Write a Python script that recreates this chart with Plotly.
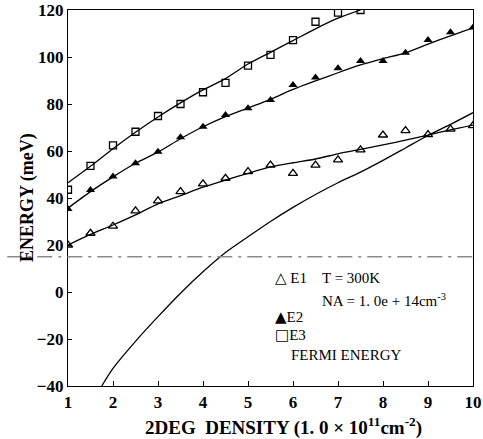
import plotly.graph_objects as go

# ---- data ----
x_pts = [1, 1.5, 2, 2.5, 3, 3.5, 4, 4.5, 5, 5.5, 6, 6.5, 7, 7.5, 8, 8.5, 9, 9.5, 10]
e1_pts = [20, 25, 28, 34.5, 38.8, 42.7, 46, 48.4, 51.2, 54, 50.5, 54, 56.2, 60.5, 66.8, 68.7, 67, 69.3, 70.8]
e2_pts = [35.3, 43.4, 49.1, 54.8, 59.7, 65.8, 70.3, 75.3, 78.2, 81.7, 88.1, 91.3, 95.2, 98.3, 98.3, 101.8, 107.2, 110.5, 112.6]
x_e3 = [1, 1.5, 2, 2.5, 3, 3.5, 4, 4.5, 5, 5.5, 6, 6.5, 7, 7.5]
e3_pts = [43.5, 53.7, 62.4, 68.2, 74.9, 80, 85, 89, 96.3, 100.9, 107.2, 115, 118.9, 120]

x_fit = [1, 1.5, 2, 2.5, 3, 3.5, 4, 4.5, 5, 5.5, 6, 6.5, 7, 7.5, 8, 8.5, 9, 9.5, 10]
e1_fit = [20, 24.5, 28.5, 32.8, 37.5, 41, 44.6, 47.6, 50.5, 53.2, 55, 56.6, 58.8, 60.7, 62.6, 64.6, 66.8, 69, 71]
e2_fit = [35.7, 42.7, 49, 54.8, 59.5, 65.2, 70.3, 74.6, 78.3, 82, 86.2, 89.8, 93.3, 96.6, 99.3, 101.8, 105.5, 109, 112.4]
x_e3_fit = [1, 1.5, 2, 2.5, 3, 3.5, 4, 4.5, 5, 5.5, 6, 6.5, 7, 7.5]
e3_fit = [46.5, 53.5, 61, 68, 74.5, 80.5, 86, 90.8, 97, 102, 107, 112, 116.5, 120]

x_fermi = [1.75, 2, 2.5, 3, 3.5, 4, 4.5, 5, 5.5, 6, 6.5, 7, 7.5, 8, 8.5, 9, 9.5, 10]
fermi = [-40, -32.5, -21, -10.5, -0.5, 8.6, 16.8, 23.5, 30, 36, 41.5, 46.5, 51, 56, 61.3, 66.6, 71.3, 76.3]

dash_level = 15

x_ticks = [1, 2, 3, 4, 5, 6, 7, 8, 9, 10]
y_ticks = [-40, -20, 0, 20, 40, 60, 80, 100, 120]

serif = "Liberation Serif, Times New Roman, serif"

fig = go.Figure()

for xs, ys in [(x_fit, e1_fit), (x_fit, e2_fit), (x_e3_fit, e3_fit), (x_fermi, fermi)]:
    fig.add_trace(go.Scatter(x=xs, y=ys, mode="lines",
                             line=dict(color="black", width=1.3, shape="spline", smoothing=0.7),
                             showlegend=False, hoverinfo="skip"))

fig.add_trace(go.Scatter(x=x_pts, y=e1_pts, mode="markers", showlegend=False,
                         marker=dict(symbol="triangle-up-open", size=8, color="black", line=dict(width=1.3))))
fig.add_trace(go.Scatter(x=x_pts, y=e2_pts, mode="markers", showlegend=False,
                         marker=dict(symbol="triangle-up", size=8, color="black")))
fig.add_trace(go.Scatter(x=x_e3, y=e3_pts, mode="markers", showlegend=False,
                         marker=dict(symbol="square-open", size=7, color="black", line=dict(width=1.3))))

# dash-dot horizontal line (extends into the left margin)
fig.add_shape(type="line", xref="paper", yref="y", x0=-0.15, x1=1.0, y0=dash_level, y1=dash_level,
              line=dict(color="#8a8a8a", width=1.5, dash="longdashdot"))

ann_font = dict(family=serif, size=15, color="black")
sym = '<span style="font-family:DejaVu Sans;font-size:15px">{}</span>'
legend_rows = [
    (0.505, 0.287, sym.format("△") + " E1"),
    (0.622, 0.287, "T = 300K"),
    (0.622, 0.229, "NA = 1. 0e + 14cm<sup>-3</sup>"),
    (0.505, 0.184, sym.format("▲") + "E2"),
    (0.505, 0.136, sym.format("□") + "E3"),
    (0.545, 0.082, "FERMI ENERGY"),
]
for ax, ay, txt in legend_rows:
    fig.add_annotation(x=ax, y=ay, xref="paper", yref="paper", text=txt, showarrow=False,
                       xanchor="left", yanchor="middle", font=ann_font)

title_font = dict(family=serif, size=19, weight="bold", color="black")
fig.add_annotation(x=0.533, y=-0.109, xref="paper", yref="paper", showarrow=False,
                   text="2DEG  DENSITY (1. 0 × 10<sup>11</sup>cm<sup>-2</sup>)",
                   xanchor="center", yanchor="middle", font=title_font)
fig.add_annotation(x=-0.101, y=0.5, xref="paper", yref="paper", showarrow=False, textangle=-90,
                   text="ENERGY (meV)", xanchor="center", yanchor="middle",
                   font=dict(family=serif, size=18, weight="bold", color="black"))

fig.update_layout(
    width=483, height=439,
    margin=dict(l=68, r=10, t=10, b=53),
    paper_bgcolor="white", plot_bgcolor="white",
    font=dict(family=serif, color="black"),
    xaxis=dict(range=[1, 10], tickvals=x_ticks, showgrid=False, zeroline=False, automargin=False,
               showline=True, linecolor="black", linewidth=1.3, mirror=True,
               ticks="inside", ticklen=5, tickcolor="black",
               tickfont=dict(family=serif, size=17, weight="bold")),
    yaxis=dict(range=[-40, 120], tickvals=y_ticks, showgrid=False, zeroline=False, automargin=False,
               showline=True, linecolor="black", linewidth=1.3, mirror=True,
               ticks="inside", ticklen=4, tickcolor="black",
               tickfont=dict(family=serif, size=17, weight="bold")),
)

fig.write_html("out.html", config={"displayModeBar": False},
               post_script="document.body.style.margin='0';")
